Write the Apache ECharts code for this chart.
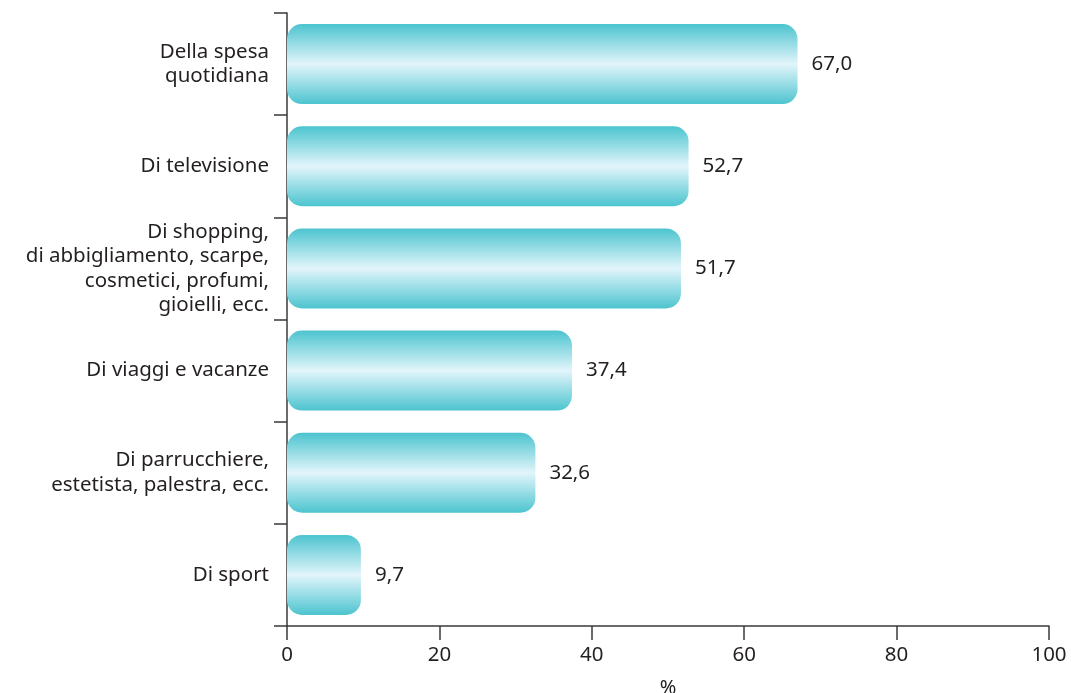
<!DOCTYPE html>
<html><head><meta charset="utf-8">
<script src="https://cdn.jsdelivr.net/npm/echarts@6/dist/echarts.min.js"></script>
<style>html,body{margin:0;padding:0;background:#fff}#c{width:1071px;height:693px}</style>
</head><body><div id="c"></div>
<script>
const categories = [
  "Della spesa\nquotidiana",
  "Di televisione",
  "Di shopping,\ndi abbigliamento, scarpe,\ncosmetici, profumi,\ngioielli, ecc.",
  "Di viaggi e vacanze",
  "Di parrucchiere,\nestetista, palestra, ecc.",
  "Di sport"
];
const values = [67.0, 52.7, 51.7, 37.4, 32.6, 9.7];
const xTicks = [0, 20, 40, 60, 80, 100];
const xAxisName = "%";

const font = "'Noto Sans', 'Open Sans', sans-serif";
const chart = echarts.init(document.getElementById('c'), null, {renderer: 'canvas'});
chart.setOption({
  animation: false,
  grid: {left: 287, right: 22, top: 13, bottom: 67, containLabel: false, outerBoundsMode: 'none'},
  xAxis: {
    type: 'value', min: xTicks[0], max: xTicks[xTicks.length - 1], interval: 20,
    name: xAxisName, nameLocation: 'middle', nameGap: 52,
    nameTextStyle: {fontFamily: font, fontSize: 20, color: '#231f20'},
    axisLine: {show: true, lineStyle: {color: '#3a3a3a', width: 1.5}},
    axisTick: {show: true, length: 14, lineStyle: {color: '#3a3a3a', width: 1.5}},
    axisLabel: {fontFamily: font, fontSize: 20.5, color: '#231f20', margin: 19},
    splitLine: {show: false}
  },
  yAxis: {
    type: 'category', data: categories, inverse: true,
    axisLine: {show: true, lineStyle: {color: '#3a3a3a', width: 1.5}},
    axisTick: {show: true, length: 13, lineStyle: {color: '#3a3a3a', width: 1.5}},
    axisLabel: {fontFamily: font, fontSize: 20.5, color: '#231f20', margin: 18, lineHeight: 24.5, align: 'right'}
  },
  series: [{
    type: 'bar', data: values, barWidth: 80,
    itemStyle: {
      borderRadius: 15,
      color: new echarts.graphic.LinearGradient(0, 0, 0, 1, [
        {offset: 0, color: '#4cc4cf'},
        {offset: 0.5, color: '#e2f5fb'},
        {offset: 1, color: '#4cc4cf'}
      ])
    },
    label: {
      show: true, position: 'right', distance: 14,
      fontFamily: font, fontSize: 20.5, color: '#231f20',
      formatter: p => p.value.toFixed(1).replace('.', ',')
    }
  }]
});
</script></body></html>
